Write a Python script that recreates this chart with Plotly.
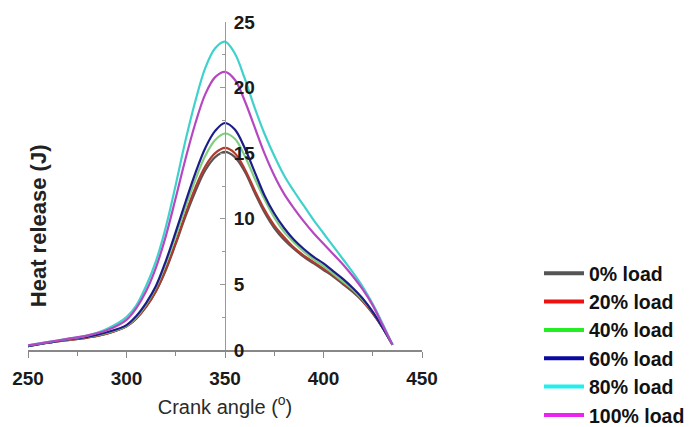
import plotly.graph_objects as go

crank_angle = [250, 260, 270, 280, 290, 300, 305, 310, 315, 320, 325, 330, 335, 340, 345,
               350, 355, 360, 365, 370, 375, 380, 385, 390, 395, 400, 405, 410, 415, 420,
               425, 430, 435]

load_0 = [0.3, 0.55, 0.75, 0.95, 1.25, 1.8, 2.4, 3.3, 4.5, 6.1, 8.1, 10.2, 12.1, 13.7, 14.7,
          15.1, 14.7, 13.6, 12.0, 10.5, 9.3, 8.4, 7.7, 7.1, 6.6, 6.1, 5.6, 5.0, 4.4, 3.7,
          2.8, 1.7, 0.4]
load_20 = [0.3, 0.55, 0.75, 0.95, 1.25, 1.8, 2.4, 3.3, 4.5, 6.2, 8.2, 10.4, 12.4, 14.0, 15.0,
           15.4, 15.0, 13.8, 12.2, 10.7, 9.5, 8.6, 7.8, 7.2, 6.7, 6.2, 5.7, 5.1, 4.5, 3.7,
           2.8, 1.7, 0.4]
load_40 = [0.3, 0.55, 0.8, 1.0, 1.3, 1.85, 2.5, 3.5, 4.8, 6.6, 8.7, 10.9, 13.0, 14.8, 16.0,
           16.5, 16.1, 14.8, 13.1, 11.5, 10.1, 9.0, 8.2, 7.5, 6.9, 6.4, 5.8, 5.2, 4.6, 3.8,
           2.9, 1.7, 0.4]
load_60 = [0.3, 0.55, 0.8, 1.0, 1.35, 1.9, 2.6, 3.6, 4.9, 6.8, 9.0, 11.3, 13.5, 15.4, 16.7,
           17.3, 16.8, 15.4, 13.6, 11.8, 10.4, 9.3, 8.4, 7.7, 7.1, 6.6, 6.0, 5.4, 4.7, 3.9,
           2.9, 1.7, 0.4]
load_80 = [0.35, 0.6, 0.85, 1.1, 1.6, 2.5, 3.4, 4.9, 6.8, 9.4, 12.6, 16.0, 19.0, 21.5, 23.0,
           23.5, 22.6, 20.7, 18.5, 16.5, 14.8, 13.3, 12.1, 11.0, 9.9, 8.9, 7.9, 6.9, 5.9, 4.8,
           3.5, 2.0, 0.4]
load_100 = [0.35, 0.6, 0.85, 1.1, 1.5, 2.3, 3.2, 4.5, 6.3, 8.7, 11.6, 14.6, 17.3, 19.5, 20.8,
            21.2, 20.6, 19.0, 17.0, 15.0, 13.3, 11.9, 10.8, 9.8, 8.9, 8.1, 7.3, 6.5, 5.6, 4.6,
            3.4, 1.9, 0.4]

series_names = ["0% load", "20% load", "40% load", "60% load", "80% load", "100% load"]
series_values = [load_0, load_20, load_40, load_60, load_80, load_100]
curve_colors = ["#5e5252", "#b03a30", "#7fcf7f", "#1c1c8a", "#3fd2cc", "#b548c0"]
legend_colors = ["#555555", "#ee1111", "#22ee22", "#0a0aa0", "#22eeee", "#ee22ee"]

x_ticks = [250, 300, 350, 400, 450]
y_ticks = [0, 5, 10, 15, 20, 25]

FONT = "Liberation Sans, Arial, sans-serif"

fig = go.Figure()

for name, vals, col in zip(series_names, series_values, curve_colors):
    fig.add_trace(go.Scatter(
        x=crank_angle, y=vals, mode="lines", name=name,
        line=dict(color=col, width=2.2, shape="spline", smoothing=1.0),
        showlegend=False, hoverinfo="x+y+name",
    ))

for name, col in zip(series_names, legend_colors):
    fig.add_trace(go.Scatter(
        x=[None], y=[None], mode="lines", name=name,
        line=dict(color=col, width=4), showlegend=True,
    ))

fig.update_layout(
    width=700, height=427,
    margin=dict(l=22, r=278, t=12, b=75),
    plot_bgcolor="white", paper_bgcolor="white",
    font=dict(family=FONT, color="#222222"),
    xaxis=dict(
        range=[250, 450], tickvals=x_ticks, showgrid=False, zeroline=False,
        showline=True, linecolor="#888888", linewidth=1.5,
        ticks="outside", ticklen=6, tickcolor="#888888",
        minor=dict(dtick=25, tick0=250, ticks="outside", ticklen=4, tickcolor="#888888"),
        tickfont=dict(size=19, family=FONT, color="#1a1a1a", weight="bold"),
        ticklabelstandoff=4,
        title=dict(text="Crank angle (<sup>o</sup>)", font=dict(size=20, family=FONT, color="#2a2a2a"),
                   standoff=12),
    ),
    yaxis=dict(
        range=[0, 25], tickvals=y_ticks, showgrid=False, zeroline=False,
        anchor="free", position=0.5, side="right",
        showline=True, linecolor="#999999", linewidth=1,
        ticks="inside", ticklen=5, tickcolor="#999999",
        minor=dict(dtick=2.5, tick0=0, ticks="inside", ticklen=3, tickcolor="#999999"),
        tickfont=dict(size=19, family=FONT, color="#1a1a1a", weight="bold"),
        ticklabelstandoff=4,
    ),
    legend=dict(
        xref="container", yref="container", x=539 / 700, y=1 - 254 / 427,
        xanchor="left", yanchor="top",
        font=dict(size=19.5, family=FONT, color="#111111", weight="bold"),
        tracegroupgap=0, bgcolor="rgba(0,0,0,0)", itemwidth=40,
    ),
    annotations=[dict(
        text="<b>Heat release (J)</b>", xref="paper", yref="paper",
        x=0.0275, y=0.38, xanchor="center", yanchor="middle", showarrow=False,
        textangle=-90, font=dict(size=22, family=FONT, color="#222222"),
    )],
)

fig.write_html("out.html")
